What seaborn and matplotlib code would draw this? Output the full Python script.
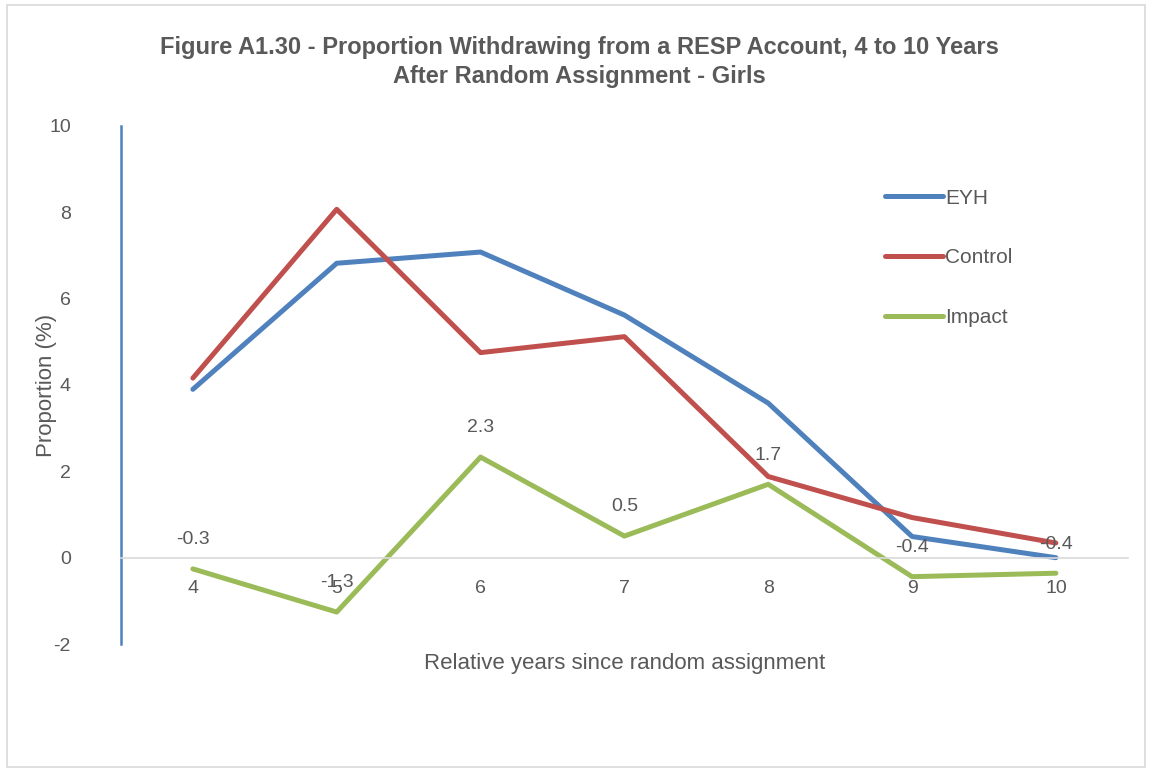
import pandas as pd
import seaborn as sns
import matplotlib
matplotlib.use('Agg')
import matplotlib.pyplot as plt
from matplotlib.patches import Rectangle
from matplotlib.lines import Line2D

# Données
years = [4, 5, 6, 7, 8, 9, 10]
eyh = [3.90, 6.82, 7.08, 5.62, 3.58, 0.49, 0.00]
control = [4.16, 8.07, 4.75, 5.12, 1.88, 0.93, 0.34]
impact = [-0.26, -1.26, 2.33, 0.50, 1.70, -0.44, -0.36]
series = ['EYH', 'Control', 'Impact']
colors = ['#4F81BD', '#C0504D', '#9BBB59']

df = pd.DataFrame({
    'year': years * 3,
    'value': eyh + control + impact,
    'series': ['EYH'] * 7 + ['Control'] * 7 + ['Impact'] * 7,
})

sns.set_style('white')
plt.rcParams['font.family'] = ['Liberation Sans', 'DejaVu Sans']
plt.rcParams['axes.unicode_minus'] = False
grey = '#595959'

fig = plt.figure(figsize=(11.52, 7.72), dpi=100)
ax = fig.add_axes([0.105, 0.1658, 0.874, 0.671])

sns.lineplot(data=df, x='year', y='value', hue='series', hue_order=series,
             palette=colors, linewidth=3.6, legend=False, ax=ax,
             solid_capstyle='round', solid_joinstyle='round')

ax.set_xlim(3.5, 10.5)
ax.set_ylim(-2, 10)
ax.set_yticks(range(-2, 11, 2))
ax.set_xticks(years)
ax.tick_params(axis='both', length=0, labelsize=14, labelcolor=grey)
ax.tick_params(axis='x', pad=16)
ax.tick_params(axis='y', pad=36)

for s in ['top', 'right']:
    ax.spines[s].set_visible(False)
ax.spines['bottom'].set_position(('data', 0))
ax.spines['bottom'].set_color('#D9D9D9')
ax.spines['bottom'].set_linewidth(1.2)
ax.spines['left'].set_color('#4F81BD')
ax.spines['left'].set_linewidth(1.8)

# Étiquettes de l'impact
for x, v in zip(years, impact):
    ax.annotate(f'{v:.1f}', (x, v), xytext=(0, 21), textcoords='offset points',
                ha='center', va='center', fontsize=14, color=grey)

ax.set_xlabel('Relative years since random assignment', fontsize=16, color=grey)
ax.set_ylabel('Proportion (%)', fontsize=16, color=grey)
ax.xaxis.set_label_coords(0.5, -0.018)
ax.yaxis.set_label_coords(-0.064, 0.5)

fig.suptitle('Figure A1.30 - Proportion Withdrawing from a RESP Account, 4 to 10 Years\n'
             'After Random Assignment - Girls',
             x=0.503, y=0.954, fontsize=17, fontweight='bold', color=grey, linespacing=1.35)

handles = [Line2D([0], [0], color=c, lw=3.6, solid_capstyle='round') for c in colors]
ax.legend(handles, series, loc='upper left', bbox_to_anchor=(0.74, 0.915), frameon=False,
          fontsize=15, labelcolor=grey, handlelength=2.8, handletextpad=0.1,
          labelspacing=1.95)

fig.patches.append(Rectangle((0.006, 0.006), 0.988, 0.988, transform=fig.transFigure,
                             fill=False, edgecolor='#D9D9D9', linewidth=1.2))

fig.savefig('out.png', dpi=100)
